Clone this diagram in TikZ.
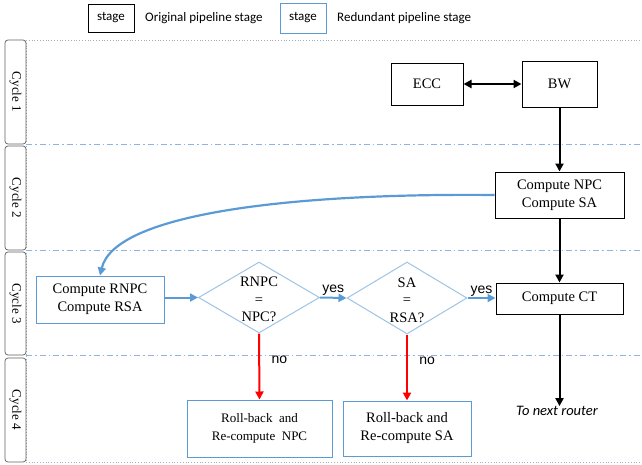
\documentclass[tikz,border=0pt]{standalone}
\usepackage{fontspec}
\setmainfont{Liberation Serif}
\newfontfamily\calibrifont{Carlito}
\newfontfamily\arialfont{Liberation Sans}
\usetikzlibrary{arrows.meta,shapes.geometric}
\definecolor{boxblue}{HTML}{5B9BD5}
\definecolor{diablue}{HTML}{9DC3E6}
\definecolor{gridblue}{HTML}{8DB4E2}
\definecolor{framegray}{HTML}{A0AEC0}
\definecolor{tabgray}{HTML}{5F5F5F}

\begin{document}
\begin{tikzpicture}[x=1pt,y=-1pt,
  serif/.style={font=\fontsize{14.5}{18}\selectfont},
  origbox/.style={draw=black, line width=1pt, inner sep=0pt, align=center, serif},
  redbox/.style={draw=boxblue, line width=1pt, inner sep=0pt, align=center, serif},
  decision/.style={diamond, draw=diablue, line width=1pt, inner sep=0pt},
  decisiontext/.style={align=center, inner sep=0pt, font=\fontsize{14.5}{17.5}\selectfont},
  tip/.style={Triangle[length=8pt,width=8pt]},
  flow/.style={-{Triangle[length=8pt,width=8pt]}, line width=2pt},
  bflow/.style={-{Triangle[length=8pt,width=8pt]}, line width=2pt, draw=boxblue},
  rflow/.style={-{Triangle[length=8pt,width=8pt]}, line width=2pt, draw=red},
  tab/.style={draw=tabgray, line width=0.7pt, rounded corners=3pt},
  cyclelabel/.style={rotate=-90, font=\fontsize{13}{15}\selectfont},
  separator/.style={draw=gridblue, line width=0.9pt, dash pattern=on 6pt off 3pt on 1.5pt off 3pt},
  frameline/.style={draw=framegray, line width=0.8pt, dotted},
  sans/.style={font=\arialfont\fontsize{14}{16}\selectfont},
  legend/.style={font=\calibrifont\fontsize{13}{15}\selectfont}
]
\useasboundingbox (0,0) rectangle (642,464);

% legend
\node[origbox, legend, minimum width=46pt, minimum height=28pt] (legorig) at (111,18) {stage};
\node[legend, anchor=west, inner sep=0pt] (legorigtxt) at (145,18) {Original pipeline stage};
\node[redbox, legend, minimum width=46pt, minimum height=30pt] (legred) at (303,18) {stage};
\node[legend, anchor=west, inner sep=0pt] (legredtxt) at (337,18) {Redundant pipeline stage};

% frame and cycle separators
\draw[frameline] (26,40) -- (642,40);
\draw[frameline] (26,40) -- (26,462);
\draw[frameline] (26,462) -- (642,462);
\draw[separator] (26,144.5) -- (642,144.5);
\draw[separator] (26,250.5) -- (642,250.5);
\draw[separator] (26,355.5) -- (642,355.5);

% cycle tabs
\draw[tab] (5,40) rectangle (26,144);
\draw[tab] (5,146) rectangle (26,250);
\draw[tab] (5,252) rectangle (26,355);
\draw[tab] (5,358) rectangle (26,462);
\node[cyclelabel] (c1) at (15.5,92) {Cycle 1};
\node[cyclelabel] (c2) at (15.5,198) {Cycle 2};
\node[cyclelabel] (c3) at (15.5,303.5) {Cycle 3};
\node[cyclelabel] (c4) at (15.5,410) {Cycle 4};

% original pipeline stages
\node[origbox, minimum width=72pt, minimum height=42pt] (ecc) at (427,84) {ECC};
\node[origbox, minimum width=75pt, minimum height=46pt] (bw) at (559.5,84) {BW};
\node[origbox, minimum width=129pt, minimum height=46pt] (npc) at (559.5,195) {Compute NPC\\Compute SA};
\node[origbox, minimum width=127pt, minimum height=31pt] (ct) at (559.5,298.5) {Compute CT};
\node[font=\calibrifont\itshape\fontsize{14.5}{16}\selectfont, inner sep=0pt] (nextr) at (557,411) {To next router};

% redundant stages
\node[redbox, minimum width=128pt, minimum height=47pt] (rnpc) at (100,299.5) {Compute RNPC\\Compute RSA};
\node[decision, minimum width=121pt, minimum height=71pt] (d1) at (259,297.5) {};
\node[decisiontext] (d1txt) at (259,299.5) {RNPC\\=\\NPC?};
\node[decision, minimum width=120pt, minimum height=72pt] (d2) at (407,298) {};
\node[decisiontext] (d2txt) at (407,300) {SA\\=\\RSA?};
\node[redbox, minimum width=145pt, minimum height=57pt, font=\fontsize{13}{18}\selectfont] (rb1) at (259.5,428.5) {Roll-back\ \ and\\Re-compute\ \ NPC};
\node[redbox, minimum width=128pt, minimum height=55pt] (rb2) at (407,428.5) {Roll-back and\\Re-compute SA};

% connectors of the original pipeline
\draw[{Triangle[length=8pt,width=8pt]}-{Triangle[length=8pt,width=8pt]}, line width=2pt] (ecc) -- (bw);
\draw[flow] (bw) -- (npc);
\draw[flow] (npc) -- (ct);
\draw[flow] (ct.south) -- (ct.south |- nextr.north);

% redundant path
\draw[bflow, line width=2.2pt] (npc.west) .. controls (300,193) and (115,212) .. (rnpc.north);
\draw[bflow] (rnpc.east |- d1) -- (d1.west);
\draw[bflow] (d1.east) -- node[sans, above, inner sep=1pt] {yes} (d2.west);
\draw[bflow] (d2.east) -- node[sans, above, inner sep=1pt] {yes} (ct.west |- d2);
\draw[rflow] (d1.south) -- node[sans, pos=0.4, right=8pt] {no} (rb1.north);
\draw[rflow] (d2.south) -- node[sans, pos=0.4, right=8pt] {no} (rb2.north);
\end{tikzpicture}
\end{document}
